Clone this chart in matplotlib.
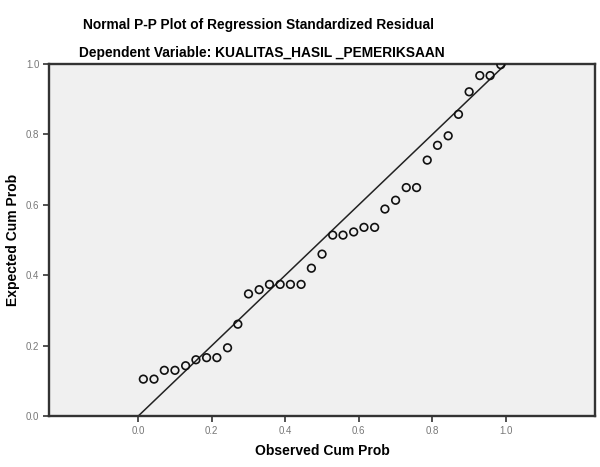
import matplotlib
matplotlib.use("Agg")
import matplotlib.pyplot as plt

# Normal P-P plot of regression standardized residual
observed_cum_prob = [0.014, 0.043, 0.071, 0.100, 0.129, 0.157, 0.186, 0.214,
                     0.243, 0.271, 0.300, 0.329, 0.357, 0.386, 0.414, 0.443,
                     0.471, 0.500, 0.529, 0.557, 0.586, 0.614, 0.643, 0.671,
                     0.700, 0.729, 0.757, 0.786, 0.814, 0.843, 0.871, 0.900,
                     0.929, 0.957, 0.986]
expected_cum_prob = [0.105, 0.105, 0.130, 0.130, 0.143, 0.160, 0.166, 0.166,
                     0.194, 0.261, 0.347, 0.359, 0.374, 0.374, 0.374, 0.374,
                     0.420, 0.460, 0.514, 0.514, 0.523, 0.536, 0.536, 0.588,
                     0.613, 0.649, 0.649, 0.727, 0.769, 0.796, 0.857, 0.921,
                     0.967, 0.967, 0.998]
ticks = [0.0, 0.2, 0.4, 0.6, 0.8, 1.0]

plt.rcParams['font.family'] = ['Liberation Sans', 'DejaVu Sans']

fig = plt.figure(figsize=(6, 4.67), dpi=100)
ax = fig.add_axes([0.082, 0.109, 0.9095, 0.754])
ax.set_facecolor('#f0f0f0')

# diagonal reference line
ax.plot([0, 1], [0, 1], color='#222222', lw=1.1, zorder=2)
ax.scatter(observed_cum_prob, expected_cum_prob, s=30, facecolors='none',
           edgecolors='#111111', linewidths=1.2, zorder=3)

ax.set_xlim(-0.242, 1.242)
ax.set_ylim(0, 1)
ax.set_xticks(ticks)
ax.set_yticks(ticks)
ax.set_xticklabels([f'{t:.1f}' for t in ticks])
ax.set_yticklabels([f'{t:.1f}' for t in ticks])
ax.tick_params(direction='out', length=4.5, width=1.2, color='#333333',
               labelsize=7, labelcolor='#777777', pad=2.5)
for sp in ax.spines.values():
    sp.set_color('#333333')
    sp.set_linewidth(1.7)

ax.set_xlabel('Observed Cum Prob', fontsize=10, fontweight='bold', labelpad=6)
ax.set_ylabel('Expected Cum Prob', fontsize=10, fontweight='bold')
ax.yaxis.set_label_coords(-0.054, 0.5)

fig.text(0.431, 0.947, 'Normal P-P Plot of Regression Standardized Residual',
         ha='center', va='center', fontsize=9.9, fontweight='bold')
fig.text(0.437, 0.886, 'Dependent Variable: KUALITAS_HASIL _PEMERIKSAAN',
         ha='center', va='center', fontsize=9.9, fontweight='bold')

fig.savefig('out.png', dpi=100)
